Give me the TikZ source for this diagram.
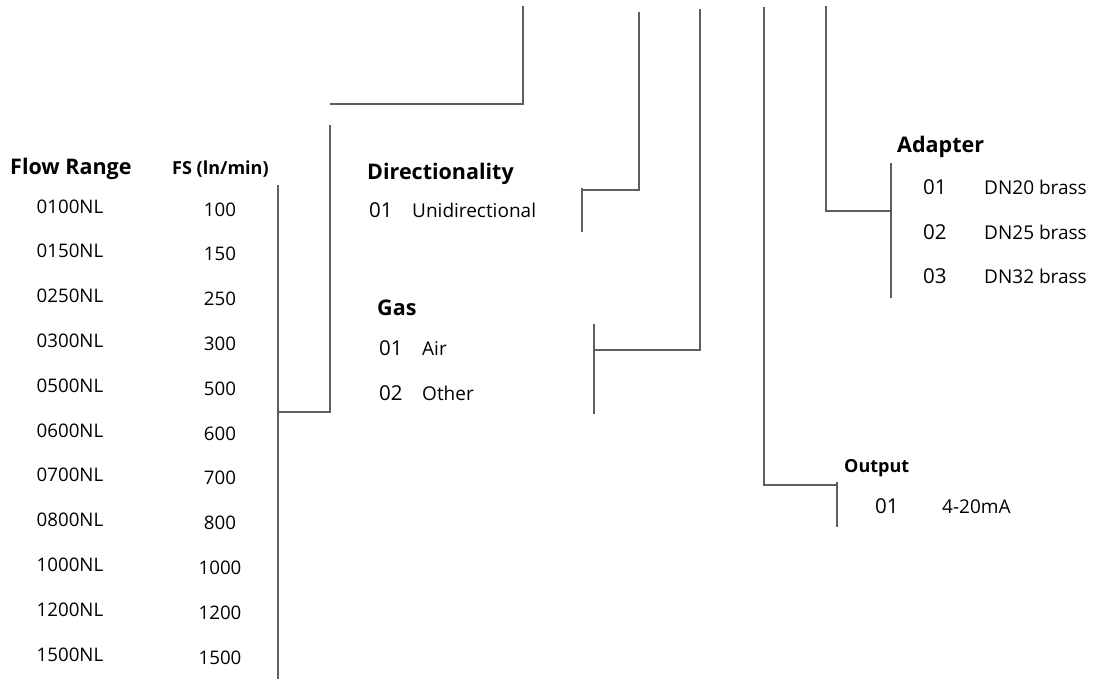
\documentclass[tikz,border=0pt]{standalone}
\usepackage{fontspec}
\setmainfont{Open Sans}
\definecolor{bargray}{HTML}{5E5E5E}
\begin{document}
\begin{tikzpicture}[x=1pt,y=-1pt,
  bar/.style={draw=bargray,line width=2.6pt},
  txt/.style={inner sep=0pt,anchor=base west},
  head/.style={txt,font=\bfseries\fontsize{21.5}{24}\selectfont},
  subhead/.style={txt,font=\bfseries\fontsize{18}{21}\selectfont},
  item/.style={inner sep=0pt,anchor=base,font=\fontsize{18.7}{22}\selectfont},
  code/.style={txt,font=\fontsize{20.5}{24}\selectfont},
  desc/.style={txt,font=\fontsize{19}{22}\selectfont}]
\useasboundingbox (0,0) rectangle (1097,679);

% flow range and full scale
\node[head] (range) at (10,175) {Flow Range};
\node[subhead] (fs) at (172,175) {FS (ln/min)};
\foreach \nl/\val [count=\i from 0] in {0100NL/100,0150NL/150,0250NL/250,0300NL/300,0500NL/500,0600NL/600,0700NL/700,0800NL/800,1000NL/1000,1200NL/1200,1500NL/1500}
{
  \node[item] (nl\i) at (70,213+44.8*\i) {\nl};
  \node[item] (val\i) at (220,216+44.8*\i) {\val};
}

% directionality
\node[head] (dir) at (367,179) {Directionality};
\node[code] (dir01) at (369,218) {01};
\node[desc] (uni) at (412,218) {Unidirectional};

% gas
\node[head] (gas) at (377,315) {Gas};
\node[code] (gas01) at (379,355) {01};
\node[desc] (air) at (422,355) {Air};
\node[code] (gas02) at (379,400) {02};
\node[desc] (other) at (422,400) {Other};

% adapter
\node[head] (adapter) at (897,153) {Adapter};
\node[code] (ad01) at (923,194) {01};
\node[desc] (dn20) at (984,194) {DN20 brass};
\node[code] (ad02) at (923,239) {02};
\node[desc] (dn25) at (984,239) {DN25 brass};
\node[code] (ad03) at (923,283) {03};
\node[desc] (dn32) at (984,283) {DN32 brass};

% output
\node[subhead] (output) at (844,472) {Output};
\node[code] (out01) at (875,513) {01};
\node[desc] (ma) at (942,513) {4-20mA};

% brackets
\coordinate (fsT) at (278,185);
\coordinate (fsB) at (278,679);
\coordinate (fsJ) at (278,412);
\coordinate (rngT) at (330,125);
\coordinate (rngL) at (330,104);
\coordinate (rngTop) at (523,6);
\draw[bar] (fsT) -- (fsB);
\draw[bar] (fsJ) -| (rngT);
\draw[bar] (rngL) -| (rngTop);

\coordinate (dirT) at (582,188);
\coordinate (dirB) at (582,232);
\coordinate (dirJ) at (582,190);
\coordinate (dirTop) at (639,12);
\draw[bar] (dirT) -- (dirB);
\draw[bar] (dirJ) -| (dirTop);

\coordinate (gasT) at (594,324);
\coordinate (gasB) at (594,414);
\coordinate (gasJ) at (594,350);
\coordinate (gasTop) at (700,9);
\draw[bar] (gasT) -- (gasB);
\draw[bar] (gasJ) -| (gasTop);

\coordinate (outTop) at (764,7);
\coordinate (outJ) at (837,485);
\coordinate (outT) at (837,482);
\coordinate (outB) at (837,527);
\draw[bar] (outTop) |- (outJ);
\draw[bar] (outT) -- (outB);

\coordinate (adTop) at (826,6);
\coordinate (adJ) at (891,211);
\coordinate (adT) at (891,163);
\coordinate (adB) at (891,298);
\draw[bar] (adTop) |- (adJ);
\draw[bar] (adT) -- (adB);
\end{tikzpicture}
\end{document}
